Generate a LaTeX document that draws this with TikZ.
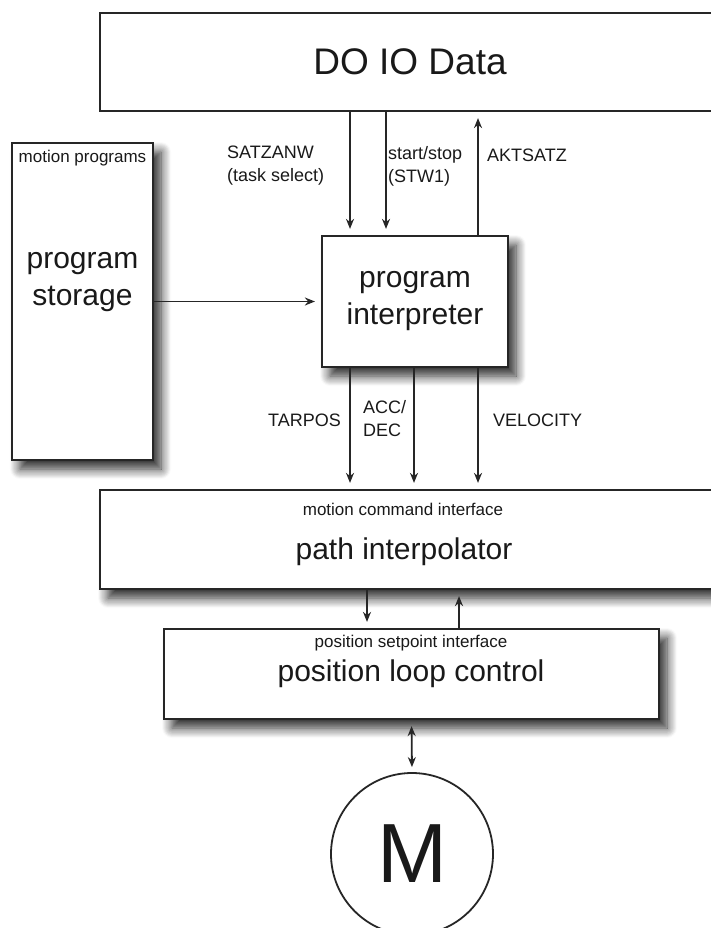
\documentclass[tikz,border=0pt]{standalone}
\usepackage{fontspec}
\setmainfont{Liberation Sans}
\usepackage{tikz}
\usetikzlibrary{positioning, arrows.meta, calc, shadows.blur}

\begin{document}
\begin{tikzpicture}[x=1pt, y=-1pt,
  frame/.style={draw=black!85, line width=2.2pt, fill=white, align=center, inner sep=0pt, text=black!90},
  block/.style={frame, blur shadow={shadow xshift=8pt, shadow yshift=-9pt, shadow blur radius=10pt, shadow opacity=85, shadow blur steps=10}},
  arrow/.style={-{Stealth[length=10pt, width=8pt]}, line width=1.8pt, draw=black!85, shorten >=6pt},
  twoway/.style={{Stealth[length=10pt, width=8pt]}-{Stealth[length=10pt, width=8pt]}, line width=1.8pt, draw=black!85, shorten >=5pt, shorten <=6pt},
  sig/.style={font=\fontsize{18}{23}\selectfont, align=left, inner sep=0pt, text=black!90},
  small/.style={font=\fontsize{17}{20}\selectfont, inner sep=0pt, text=black!90},
  big/.style={font=\fontsize{30}{37}\selectfont, align=center, inner sep=0pt, text=black!90}
]
\useasboundingbox (0,0) rectangle (711,928);
\clip (0,0) rectangle (711,928);

% boxes
\node[frame, minimum width=620pt, minimum height=98pt, font=\fontsize{37}{44}\selectfont] (io) at (410,62) {DO IO Data};

\node[block, minimum width=141pt, minimum height=317pt] (store) at (82.5,301.5) {};
\node[small] (storetitle) at (82.5,158) {motion programs};
\node[big] (storetext) at (82.5,282) {program\\storage};

\node[block, big, minimum width=186pt, minimum height=131pt] (interp) at (415,301.5) {program\\interpreter};

\node[block, minimum width=620pt, minimum height=99pt] (path) at (410,539.5) {};
\node[small] (pathtitle) at (403,509) {motion command interface};
\node[big] (pathtext) at (404,552) {path interpolator};

\node[block, minimum width=495pt, minimum height=90pt] (pos) at (411.5,674) {};
\node[small] (postitle) at (411,643) {position setpoint interface};
\node[big] (postext) at (411,674) {position loop control};

\node[circle, draw=black!85, line width=1.8pt, minimum size=162pt, inner sep=0pt, text=black!90, font=\fontsize{84}{84}\selectfont] (motor) at (412,854) {M};

% DO IO <-> interpreter
\draw[arrow] ([xshift=-65pt]interp.north |- io.south) -- ([xshift=-65pt]interp.north);
\draw[arrow] ([xshift=-29pt]interp.north |- io.south) -- ([xshift=-29pt]interp.north);
\draw[arrow] ([xshift=63pt]interp.north) -- ([xshift=63pt]interp.north |- io.south);
\node[sig, anchor=west] (satzanw) at (227,166) {SATZANW\\(task select)};
\node[sig, anchor=west] (stw) at (388,166) {start/stop\\(STW1)};
\node[sig, anchor=west] (aktsatz) at (487,155) {AKTSATZ};

\draw[arrow] (store.east) -- (interp.west);

% interpreter -> path interpolator
\draw[arrow] ([xshift=-65pt]interp.south) -- ([xshift=-65pt]interp.south |- path.north);
\draw[arrow] ([xshift=-1pt]interp.south) -- ([xshift=-1pt]interp.south |- path.north);
\draw[arrow] ([xshift=63pt]interp.south) -- ([xshift=63pt]interp.south |- path.north);
\node[sig, anchor=east] (tarpos) at (341,420) {TARPOS};
\node[sig, anchor=west] (accdec) at (363,419) {ACC/\\DEC};
\node[sig, anchor=west] (velocity) at (493,420) {VELOCITY};

% path interpolator <-> position loop
\draw[arrow] ([xshift=-44.5pt]pos.north |- path.south) -- ([xshift=-44.5pt]pos.north);
\draw[arrow] ([xshift=47.5pt]pos.north) -- ([xshift=47.5pt]pos.north |- path.south);

\draw[twoway] (pos.south) -- (motor.north);
\end{tikzpicture}
\end{document}
